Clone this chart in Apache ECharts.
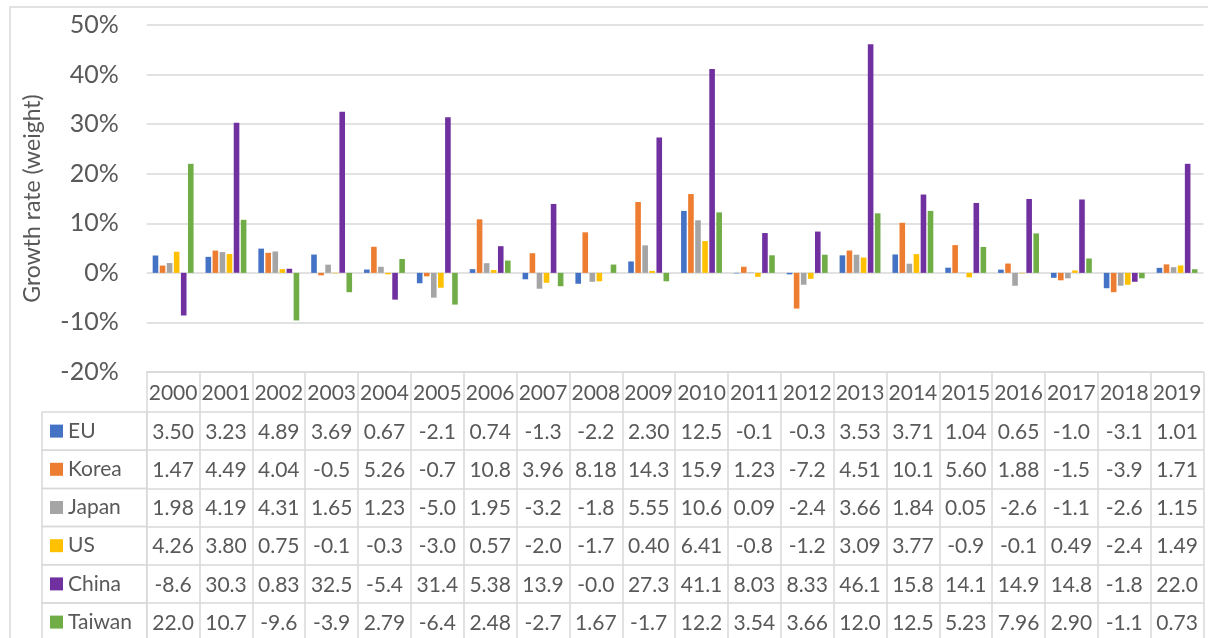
<!DOCTYPE html>
<html>
<head>
<meta charset="utf-8">
<script src="https://cdn.jsdelivr.net/npm/echarts@6/dist/echarts.min.js"></script>
<style>
html,body{margin:0;padding:0;background:#fff;}
#chart{width:1208px;height:638px;}
</style>
</head>
<body>
<div id="chart"></div>
<script>
var YEARS = ['2000','2001','2002','2003','2004','2005','2006','2007','2008','2009','2010','2011','2012','2013','2014','2015','2016','2017','2018','2019'];
var SERIES_NAMES = ['EU','Korea','Japan','US','China','Taiwan'];
var EU     = ['3.50','3.23','4.89','3.69','0.67','-2.1','0.74','-1.3','-2.2','2.30','12.5','-0.1','-0.3','3.53','3.71','1.04','0.65','-1.0','-3.1','1.01'];
var KOREA  = ['1.47','4.49','4.04','-0.5','5.26','-0.7','10.8','3.96','8.18','14.3','15.9','1.23','-7.2','4.51','10.1','5.60','1.88','-1.5','-3.9','1.71'];
var JAPAN  = ['1.98','4.19','4.31','1.65','1.23','-5.0','1.95','-3.2','-1.8','5.55','10.6','0.09','-2.4','3.66','1.84','0.05','-2.6','-1.1','-2.6','1.15'];
var US     = ['4.26','3.80','0.75','-0.1','-0.3','-3.0','0.57','-2.0','-1.7','0.40','6.41','-0.8','-1.2','3.09','3.77','-0.9','-0.1','0.49','-2.4','1.49'];
var CHINA  = ['-8.6','30.3','0.83','32.5','-5.4','31.4','5.38','13.9','-0.0','27.3','41.1','8.03','8.33','46.1','15.8','14.1','14.9','14.8','-1.8','22.0'];
var TAIWAN = ['22.0','10.7','-9.6','-3.9','2.79','-6.4','2.48','-2.7','1.67','-1.7','12.2','3.54','3.66','12.0','12.5','5.23','7.96','2.90','-1.1','0.73'];
var Y_TICKS = {min: -20, max: 50, interval: 10};
var Y_TITLE = 'Growth rate (weight)';

var ROWS = [EU, KOREA, JAPAN, US, CHINA, TAIWAN];
var COLORS = ['#4472C4','#ED7D31','#A5A5A5','#FFC000','#7030A0','#70AD47'];
var FONT = 'Lato';
var TXT = '#595959';
var LINE = '#d9d9d9';

var gridLeft = 146.7, gridTop = 25, gridBottomY = 372;
var headerH = 40, rowH = 38.2;

var xAxes = [{
  type: 'category', data: YEARS, gridIndex: 0, position: 'bottom', offset: 0,
  axisLine: {onZero: false, show: true, lineStyle: {color: LINE, width: 1.5}},
  axisTick: {show: true, interval: 0, length: headerH, lineStyle: {color: LINE, width: 1.5}},
  axisLabel: {interval: 0, margin: headerH / 2 + 1, fontFamily: FONT, fontSize: 21, color: TXT, verticalAlign: 'middle'}
}];
ROWS.forEach(function (row, r) {
  xAxes.push({
    type: 'category', data: YEARS, gridIndex: 0, position: 'bottom', offset: headerH + r * rowH,
    axisLine: {onZero: false, show: true, lineStyle: {color: LINE, width: 1.5}},
    axisTick: {show: true, interval: 0, length: rowH, lineStyle: {color: LINE, width: 1.5}},
    axisLabel: {interval: 0, margin: rowH / 2 + 1, fontFamily: FONT, fontSize: 21, color: TXT, verticalAlign: 'middle',
      formatter: (function (rr) { return function (v, i) { return rr[i]; }; })(row)}
  });
});

var series = ROWS.map(function (row, r) {
  return {
    name: SERIES_NAMES[r], type: 'bar', xAxisIndex: 0, yAxisIndex: 0,
    data: row.map(Number),
    barWidth: 5.6, barGap: '26%',
    itemStyle: {color: COLORS[r]}
  };
});

var graphics = [{
  type: 'rect', shape: {x: 10, y: 7, width: 1230, height: 660},
  style: {fill: 'none', stroke: LINE, lineWidth: 1.5}, silent: true, z: -1
}];
for (var i = 0; i < ROWS.length; i++) {
  graphics.push({
    type: 'rect', shape: {x: 42, y: gridBottomY + headerH + i * rowH, width: gridLeft - 42, height: rowH},
    style: {fill: 'none', stroke: LINE, lineWidth: 1.5}, silent: true
  });
}

var chart = echarts.init(document.getElementById('chart'), null, {renderer: 'canvas'});
chart.setOption({
  animation: false,
  backgroundColor: '#fff',
  textStyle: {fontFamily: FONT},
  grid: {left: gridLeft, right: 4.5, top: gridTop, bottom: 638 - gridBottomY, containLabel: false},
  legend: {
    orient: 'vertical', left: 50, top: gridBottomY + headerH + rowH / 2 - 11, padding: 0,
    itemWidth: 13, itemHeight: 13, itemGap: rowH - 22, icon: 'rect',
    textStyle: {fontFamily: FONT, fontSize: 21, color: TXT, lineHeight: 22},
    data: SERIES_NAMES, selectedMode: false
  },
  xAxis: xAxes,
  yAxis: {
    type: 'value', min: Y_TICKS.min, max: Y_TICKS.max, interval: Y_TICKS.interval,
    name: Y_TITLE, nameLocation: 'middle', nameRotate: 90, nameGap: 103,
    nameTextStyle: {fontFamily: FONT, fontSize: 23, color: TXT},
    axisLine: {show: false}, axisTick: {show: false},
    axisLabel: {formatter: '{value}%', fontFamily: FONT, fontSize: 25, color: TXT, margin: 28},
    splitLine: {lineStyle: {color: LINE, width: 1.5}}
  },
  graphic: graphics,
  series: series
});
</script>
</body>
</html>
